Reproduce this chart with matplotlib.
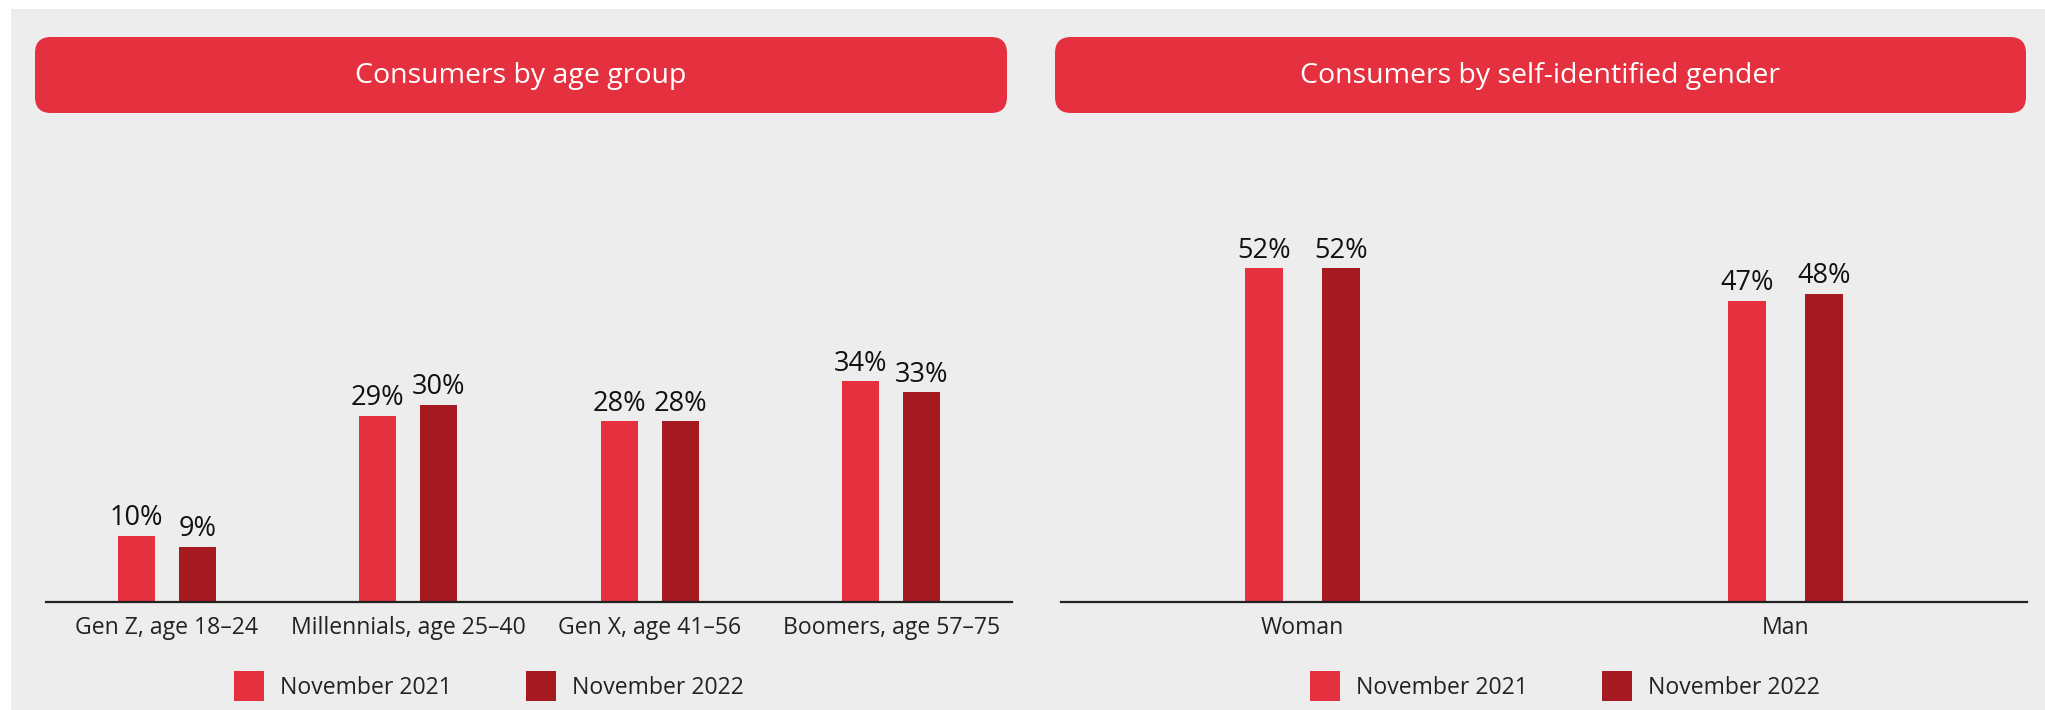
import matplotlib
matplotlib.use("Agg")
import matplotlib.pyplot as plt
from matplotlib.patches import FancyBboxPatch, Rectangle
import numpy as np

plt.rcParams['font.family'] = ['Open Sans', 'DejaVu Sans']

# ---- data ----
age_categories = ["Gen Z, age 18\u201324", "Millennials, age 25\u201340",
                  "Gen X, age 41\u201356", "Boomers, age 57\u201375"]
age_2021 = [10.3, 29.0, 28.2, 34.4]
age_2022 = [8.6, 30.7, 28.2, 32.7]
age_labels_2021 = ["10%", "29%", "28%", "34%"]
age_labels_2022 = ["9%", "30%", "28%", "33%"]

gender_categories = ["Woman", "Man"]
gender_2021 = [52.0, 46.9]
gender_2022 = [52.0, 48.0]
gender_labels_2021 = ["52%", "47%"]
gender_labels_2022 = ["52%", "48%"]

series_names = ["November 2021", "November 2022"]
titles = ["Consumers by age group", "Consumers by self-identified gender"]

# ---- style ----
W, H = 2045, 710
C21 = "#E5303F"
C22 = "#A51921"
BG = "#EDEDED"
TXT = "#111111"

fig = plt.figure(figsize=(W / 100, H / 100), dpi=100)
fig.patch.set_facecolor("white")

# background / header layer in pixel coordinates
bg = fig.add_axes([0, 0, 1, 1], zorder=-1)
bg.set_xlim(0, W)
bg.set_ylim(H, 0)
bg.axis("off")
bg.add_patch(Rectangle((11, 9), W - 11, H - 9, facecolor=BG, edgecolor="none"))

headers = [(35, 37, 1007, 113), (1055, 37, 2026, 113)]
for (x0, y0, x1, y1), t in zip(headers, titles):
    bg.add_patch(FancyBboxPatch((x0, y0), x1 - x0, y1 - y0,
                                boxstyle="round,pad=0,rounding_size=16",
                                facecolor=C21, edgecolor="none"))
    bg.text((x0 + x1) / 2, (y0 + y1) / 2 + 1, t, color="white", fontsize=20.5,
            ha="center", va="center")


def px_axes(x0, x1, y_top, y_base):
    return fig.add_axes([x0 / W, (H - y_base) / H, (x1 - x0) / W, (y_base - y_top) / H])


PX_PER = 6.42
YMAX = 60
base = 602
top = base - YMAX * PX_PER

panels = [
    dict(x0=46, x1=1012, cats=age_categories, v1=age_2021, v2=age_2022,
         l1=age_labels_2021, l2=age_labels_2022, width=0.154, off=0.126,
         leg_x=489),
    dict(x0=1061, x1=2027, cats=gender_categories, v1=gender_2021, v2=gender_2022,
         l1=gender_labels_2021, l2=gender_labels_2022, width=0.079, off=0.080,
         leg_x=1565),
]

for p in panels:
    ax = px_axes(p["x0"], p["x1"], top, base)
    ax.set_facecolor("none")
    n = len(p["cats"])
    x = np.arange(n)
    b1 = ax.bar(x - p["off"], p["v1"], p["width"], color=C21, label=series_names[0])
    b2 = ax.bar(x + p["off"], p["v2"], p["width"], color=C22, label=series_names[1])
    for bars, labs in ((b1, p["l1"]), (b2, p["l2"])):
        for r, lab in zip(bars, labs):
            ax.annotate(lab, (r.get_x() + r.get_width() / 2, r.get_height()),
                        xytext=(0, 7.5), textcoords="offset points",
                        ha="center", va="baseline", fontsize=19.5, color=TXT)
    ax.set_xlim(-0.5, n - 0.5)
    ax.set_ylim(0, YMAX)
    for s in ("top", "left", "right"):
        ax.spines[s].set_visible(False)
    ax.spines["bottom"].set_color("#222222")
    ax.spines["bottom"].set_linewidth(1.6)
    ax.set_yticks([])
    ax.set_xticks(x)
    ax.set_xticklabels(p["cats"], fontsize=16.6, color="#222222")
    ax.tick_params(axis="x", length=0, pad=10)
    ax.legend(loc="center", bbox_to_anchor=(p["leg_x"] / W, (H - 686) / H),
              bbox_transform=fig.transFigure, ncol=2, frameon=False,
              fontsize=16.6, handlelength=1.3, handleheight=1.6,
              handletextpad=0.7, columnspacing=3.2, labelcolor="#222222")

fig.savefig("out.png", dpi=100, facecolor=fig.get_facecolor())
